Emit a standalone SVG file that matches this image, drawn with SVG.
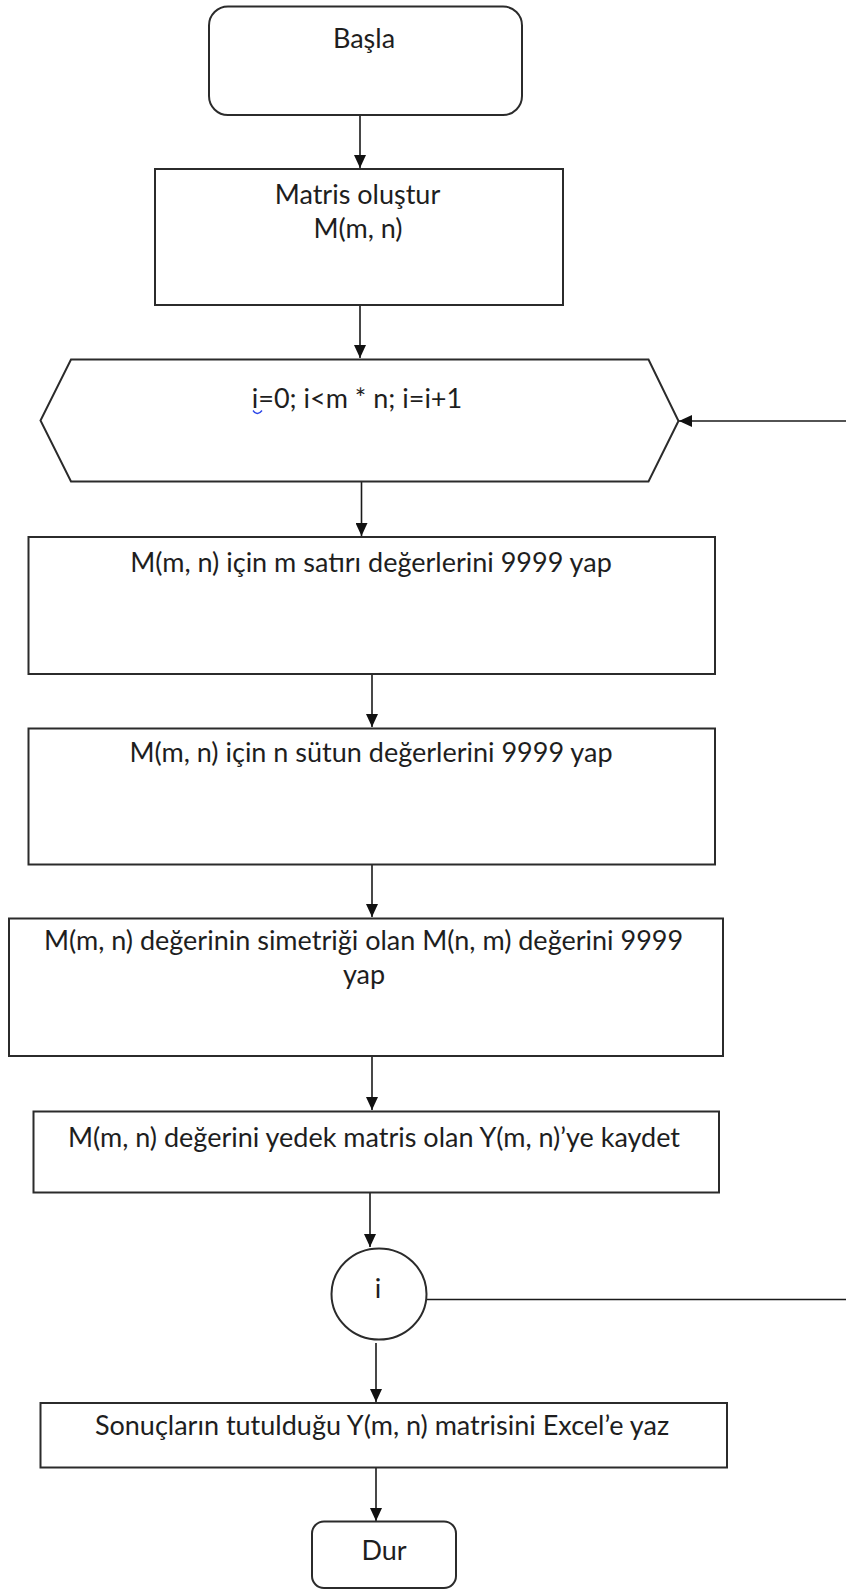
<svg xmlns="http://www.w3.org/2000/svg" width="846" height="1591" viewBox="0 0 846 1591">
  <style>
    .shape { fill: #ffffff; stroke: #2b2b2b; stroke-width: 2; }
    .conn { fill: none; stroke: #1a1a1a; stroke-width: 1.6; }
    .lbl { font-family: "Lato", "Carlito", "Open Sans", "Liberation Sans", sans-serif; font-size: 27px; fill: #1e1e1e; text-anchor: middle; }
  </style>
  <defs>
    <marker id="arrow" markerUnits="userSpaceOnUse" markerWidth="14" markerHeight="12" refX="13" refY="6" orient="auto">
      <path d="M0,0 L13,6 L0,12 Z" fill="#111111"/>
    </marker>
  </defs>
  <rect width="846" height="1591" fill="#ffffff"/>

  <g id="connectors">
    <line class="conn" x1="360" y1="115" x2="360" y2="168" marker-end="url(#arrow)"/>
    <line class="conn" x1="360" y1="305" x2="360" y2="358" marker-end="url(#arrow)"/>
    <line class="conn" x1="361.5" y1="482" x2="361.5" y2="536" marker-end="url(#arrow)"/>
    <line class="conn" x1="372" y1="674" x2="372" y2="727" marker-end="url(#arrow)"/>
    <line class="conn" x1="372" y1="864" x2="372" y2="917" marker-end="url(#arrow)"/>
    <line class="conn" x1="372" y1="1056" x2="372" y2="1110" marker-end="url(#arrow)"/>
    <line class="conn" x1="370" y1="1192" x2="370" y2="1247" marker-end="url(#arrow)"/>
    <line class="conn" x1="376" y1="1343" x2="376" y2="1402" marker-end="url(#arrow)"/>
    <line class="conn" x1="376" y1="1468" x2="376" y2="1521" marker-end="url(#arrow)"/>
    <line class="conn" x1="846" y1="421" x2="679" y2="421" marker-end="url(#arrow)"/>
    <line class="conn" x1="427" y1="1299.5" x2="846" y2="1299.5"/>
  </g>

  <g id="start">
    <rect class="shape" x="209" y="6.5" width="313" height="108.5" rx="19" ry="19"/>
    <text class="lbl" x="364" y="48">Başla</text>
  </g>

  <g id="create-matrix">
    <rect class="shape" x="155" y="169" width="408" height="136"/>
    <text class="lbl" x="357.5" y="204">Matris oluştur</text>
    <text class="lbl" x="358" y="238">M(m, n)</text>
  </g>

  <g id="loop">
    <polygon class="shape" points="71,359.5 648.5,359.5 678.5,421 648.5,481.5 71,481.5 40.5,420.5"/>
    <text class="lbl" x="357" y="408">i=0; i&lt;m * n; i=i+1</text>
    <path d="M253,410.5 q4.5,6 9,0" fill="none" stroke="#2a45e8" stroke-width="1.3"/>
  </g>

  <g id="rows">
    <rect class="shape" x="28.5" y="537" width="686.5" height="137"/>
    <text class="lbl" x="371" y="572">M(m, n) için m satırı değerlerini 9999 yap</text>
  </g>

  <g id="columns">
    <rect class="shape" x="28.5" y="728.5" width="686.5" height="136"/>
    <text class="lbl" x="371" y="762">M(m, n) için n sütun değerlerini 9999 yap</text>
  </g>

  <g id="symmetric">
    <rect class="shape" x="9" y="918.5" width="714" height="137.5"/>
    <text class="lbl" x="363.5" y="950">M(m, n) değerinin simetriği olan M(n, m) değerini 9999</text>
    <text class="lbl" x="364" y="984">yap</text>
  </g>

  <g id="backup">
    <rect class="shape" x="33.5" y="1111.5" width="685.5" height="81"/>
    <text class="lbl" x="374" y="1147">M(m, n) değerini yedek matris olan Y(m, n)’ye kaydet</text>
  </g>

  <g id="connector-i">
    <ellipse class="shape" cx="379" cy="1294" rx="47.5" ry="45.5"/>
    <text class="lbl" x="378" y="1298">i</text>
  </g>

  <g id="excel">
    <rect class="shape" x="40.5" y="1403" width="686.5" height="64.5"/>
    <text class="lbl" x="382" y="1435">Sonuçların tutulduğu Y(m, n) matrisini Excel’e yaz</text>
  </g>

  <g id="stop">
    <rect class="shape" x="312" y="1521.5" width="144" height="66.5" rx="12" ry="12"/>
    <text class="lbl" x="384" y="1560">Dur</text>
  </g>
</svg>
